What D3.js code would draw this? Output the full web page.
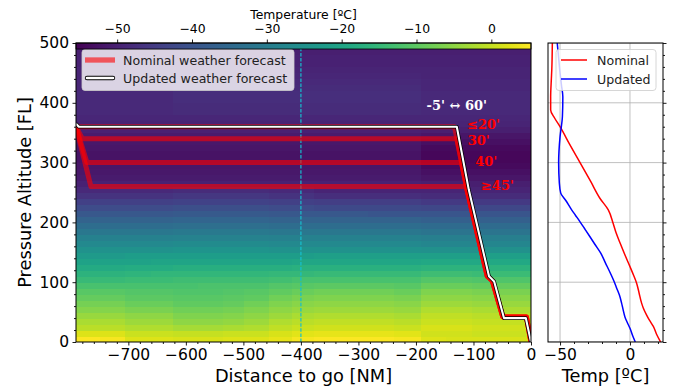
<!DOCTYPE html>
<html>
<head>
<meta charset="utf-8">
<script src="https://cdn.jsdelivr.net/npm/d3@7"></script>
<style>
  body { margin: 0; background: #fff; }
  svg { display: block; font-family: "DejaVu Sans", sans-serif; }
</style>
</head>
<body>
<svg id="chart" width="675" height="389"></svg>
<script>
// ---- data ----
// heatmap cell edges: distance to go [NM] and pressure altitude [FL]
const colEdges = [-791, -750, -706, -661, -623, -579, -536, -499, -456, -416, -377, -330, -283, -238, -191, -148, -103, -59, -16, 0];
const rowEdges = [0, 10, 20, 30, 40, 50, 60, 70, 80, 90, 100, 110, 120, 130, 140, 150, 160, 170, 180, 190, 200,
  210, 220, 230, 240, 250, 260, 270, 280, 290, 300, 310, 320, 330, 340, 350, 360, 370, 380, 390, 400,
  410, 420, 430, 440, 450, 460, 470, 480, 490, 500];

// temperature [ºC] per cell, bottom row first, one value per column
const tempGrid = [
  [5, 4.5, 2, 2, 1.5, 1.5, 2, 2, 3, 4.5, 5, 5, 5, 4.5, 2, 1.5, 1.5, 1.5, 1.5],
  [2, 2, 0.5, 0.5, 0, 0, 0.5, 0.5, 1.5, 2.5, 3, 3, 3, 2.5, 1, 1, 0.5, 0.5, 0.5],
  [-1, -1, -2, -2, -3, -3, -2.5, -2, -0.5, 0.5, 1, 1, 1, 0.5, 1.5, 1.5, 1, 1, 1],
  [-2.5, -2.5, -3.5, -3.5, -5, -5, -4.5, -3.5, -2, -1, -0.5, -0.5, -0.5, -1, 0.5, 0.5, 0, 0, 0],
  [-4, -4, -5, -5, -6.5, -6.5, -6, -5, -3.5, -2.5, -2, -2, -2, -2.5, -0.5, -0.5, -1, -1, -1],
  [-6, -6, -7, -7, -8, -8, -7.5, -6.5, -5, -4, -3.5, -3.5, -3.5, -4, -2, -2, -2.5, -2.5, -2.5],
  [-7.5, -7.5, -8.5, -8.5, -9.5, -9.5, -9, -8, -6.5, -5.5, -5, -5, -5, -5.5, -3.5, -3.5, -4, -4, -4],
  [-9, -9, -10, -10, -10.5, -10.5, -10, -9.5, -8, -7, -6.5, -6.5, -6.5, -7, -5, -5, -5.5, -5.5, -5.5],
  [-10.5, -10.5, -11, -11, -11.5, -11.5, -11, -10.5, -9.5, -8.5, -8, -8, -8, -8.5, -6.5, -6.5, -7, -7, -7],
  [-12.5, -12.5, -12.5, -12.5, -12.5, -12, -12, -12, -11, -10.5, -10, -10, -10, -10.5, -8.5, -8.5, -9, -9, -9],
  [-14.5, -14.5, -14, -14, -13.5, -13.5, -13.5, -13.5, -13, -12.5, -12.5, -12.5, -12.5, -12.5, -11, -11, -11.5, -11.5, -11.5],
  [-16.5, -16.5, -16, -15.5, -15.5, -15.5, -15.5, -15.5, -15, -15, -14.5, -14.5, -14.5, -14.5, -13.5, -13.5, -14, -14, -14],
  [-18.5, -18.5, -18, -18, -17.5, -17.5, -17.5, -17.5, -17.5, -17, -17, -17, -17, -17, -16.5, -16.5, -16.5, -16.5, -16.5],
  [-20.5, -20.5, -20.5, -20, -20, -20, -20, -20, -20, -19.5, -19.5, -19.5, -19.5, -19.5, -19, -19, -19, -19, -19],
  [-22.5, -22.5, -22, -22, -22, -22, -22, -22, -22, -22, -21.5, -21.5, -21.5, -21.5, -21.5, -21.5, -21.5, -21.5, -21.5],
  [-24.5, -24.5, -24.5, -24.5, -24, -24, -24, -24, -24.5, -24.5, -24.5, -24.5, -24.5, -24.5, -25, -25, -25, -25, -25],
  [-27, -27, -27, -27, -26.5, -26.5, -26.5, -26.5, -27, -27, -27, -27, -27, -27, -27.5, -27.5, -27.5, -27.5, -27.5],
  [-29, -29, -29, -29, -28.5, -28.5, -28.5, -28.5, -29, -29, -29, -29, -29, -29, -29.5, -29.5, -29.5, -29.5, -29.5],
  [-31.5, -31.5, -31.5, -31.5, -31, -31, -31, -31, -31.5, -31.5, -31.5, -31.5, -31.5, -31.5, -32, -32, -32, -32, -32],
  [-34, -34, -34, -34, -33.5, -33.5, -33.5, -33.5, -34, -34, -34, -34, -34, -34, -34.5, -34.5, -34.5, -34.5, -34.5],
  [-36.5, -36.5, -36.5, -36.5, -36, -36, -36, -36, -36.5, -36.5, -36.5, -36.5, -36.5, -36.5, -37, -37, -37, -37, -37],
  [-39, -39, -39, -39, -38.5, -38.5, -38.5, -38.5, -39, -39, -39, -39, -39.5, -39.5, -39.5, -39.5, -39.5, -39.5, -39.5],
  [-41.5, -41.5, -41.5, -41.5, -41, -41, -41, -41, -41.5, -41.5, -42, -42, -42, -42, -42.5, -42.5, -42.5, -42.5, -42.5],
  [-44, -44, -44, -44, -43.5, -43.5, -43.5, -43.5, -44, -44, -44.5, -44.5, -44.5, -44.5, -45.5, -45.5, -45.5, -45.5, -45.5],
  [-46.5, -46.5, -46.5, -46.5, -46, -46, -46, -46, -46.5, -46.5, -47.5, -47.5, -47.5, -47.5, -48, -48, -48, -48, -48],
  [-48.5, -48.5, -48.5, -48.5, -48, -48, -48, -48, -48.5, -48.5, -49.5, -49.5, -49.5, -49.5, -49.5, -49.5, -49.5, -49.5, -49.5],
  [-50, -50, -50, -50, -50, -50, -50, -50, -50, -50, -50, -50, -50, -50, -50.5, -50.5, -50.5, -50.5, -50.5],
  [-51, -51, -51, -51, -51, -51, -51, -51, -51, -51, -51, -51, -51, -51, -52, -52, -52, -52, -52],
  [-51.5, -51.5, -51.5, -51.5, -51.5, -51.5, -51.5, -51.5, -51.5, -51.5, -51.5, -51.5, -51.5, -51.5, -53, -53, -53, -53, -53],
  [-52, -52, -52, -52, -52, -52, -52, -52, -52, -52, -52, -52, -52, -52, -54, -54, -54, -54, -54],
  [-52.5, -52.5, -52.5, -52.5, -52.5, -52.5, -52.5, -52.5, -52.5, -52.5, -52.5, -52.5, -52.5, -52.5, -54.5, -54.5, -54.5, -54.5, -54.5],
  [-52.5, -52.5, -52.5, -52.5, -52.5, -52.5, -52.5, -52.5, -52.5, -52.5, -52.5, -52.5, -52.5, -52.5, -54.5, -54.5, -54.5, -54.5, -54.5],
  [-52, -52, -52, -52, -52, -52, -52, -52, -52, -52, -52, -52, -52, -52, -54, -54, -54, -54, -54],
  [-51.5, -51.5, -51.5, -51.5, -51.5, -51.5, -51.5, -51.5, -51.5, -51.5, -51.5, -51.5, -51.5, -51.5, -53, -53, -53, -53, -53],
  [-51, -51, -51, -51, -51, -51, -51, -51, -51, -51, -51, -51, -51, -51, -52, -52, -52, -52, -52],
  [-50, -50, -50, -50, -50, -50, -50, -50, -50, -50, -50, -50, -50, -50, -50.5, -50.5, -50.5, -50.5, -50.5],
  [-49.5, -49.5, -49.5, -49.5, -49.5, -49.5, -49.5, -49.5, -49.5, -49.5, -49.5, -49.5, -49.5, -49.5, -49.5, -49.5, -49.5, -49.5, -49.5],
  [-49, -49, -49, -49, -49, -49, -49, -49, -49, -49, -49, -49, -49, -49, -49, -49, -49, -49, -49],
  [-48.5, -48.5, -48.5, -48.5, -48, -48, -48, -48, -48, -48, -48, -48, -48, -48, -48.5, -48.5, -48.5, -48.5, -48.5],
  [-48.5, -48.5, -48.5, -48.5, -48, -48, -48, -48, -48, -48, -48, -48, -48, -48, -48.5, -48.5, -48.5, -48.5, -48.5],
  [-48.5, -48.5, -48.5, -48.5, -47.5, -47.5, -47.5, -47.5, -47.5, -47.5, -47.5, -47.5, -47.5, -47.5, -48.5, -48.5, -48.5, -48.5, -48.5],
  [-48.5, -48.5, -48.5, -48.5, -47.5, -47.5, -47.5, -47.5, -47.5, -47.5, -47.5, -47.5, -47.5, -47.5, -48.5, -48.5, -48.5, -48.5, -48.5],
  [-49, -49, -49, -49, -48, -48, -48, -48, -48, -48, -48, -48, -48, -48, -49, -49, -49, -49, -49],
  [-49, -49, -49, -49, -48.5, -48.5, -48.5, -48.5, -48.5, -48.5, -48.5, -48.5, -48.5, -48.5, -49, -49, -49, -49, -49],
  [-49.5, -49.5, -49.5, -49.5, -49, -49, -49, -49, -49, -49, -49, -49, -49, -49, -49.5, -49.5, -49.5, -49.5, -49.5],
  [-49.5, -49.5, -49.5, -49.5, -49.5, -49.5, -49.5, -49.5, -49.5, -49.5, -49.5, -49.5, -49.5, -49.5, -49.5, -49.5, -49.5, -49.5, -49.5],
  [-50, -50, -50, -50, -50, -50, -50, -50, -50, -50, -50, -50, -50, -50, -50, -50, -50, -50, -50],
  [-50, -50, -50, -50, -50, -50, -50, -50, -50, -50, -50, -50, -50, -50, -50, -50, -50, -50, -50],
  [-50.5, -50.5, -50.5, -50.5, -50.5, -50.5, -50.5, -50.5, -50.5, -50.5, -50.5, -50.5, -50.5, -50.5, -50.5, -50.5, -50.5, -50.5, -50.5],
  [-50.5, -50.5, -50.5, -50.5, -50.5, -50.5, -50.5, -50.5, -50.5, -50.5, -50.5, -50.5, -50.5, -50.5, -50.5, -50.5, -50.5, -50.5, -50.5]
];

// flight profiles [distance NM, FL]
const nominalLevels = [360, 340, 300, 260];
const nominalStart = [-791, 360];
const nominalJoin = [[-784, 360], [-780, 340], [-772, 300], [-765, 260]];
const nominalTOD = [[-133, 360], [-129, 340], [-121, 300], [-112, 260]];
const nominalDescent = [[-133, 360], [-111, 254], [-76, 110], [-67, 102], [-49, 42], [-8, 42], [0, 0]];
const updatedPath = [[-791, 365], [-786, 360], [-129, 360], [-108, 254], [-73, 110], [-64, 101], [-47, 40], [-9, 40], [0, 0]];

// delay annotations [text, distance NM, FL]
const delayLabels = [["≤20'", -111, 363], ["30'", -110, 337], ["40'", -97, 301.5], ["≥45'", -87, 262.5]];
const rangeLabel = ["-5' ↔ 60'", -129, 396];

// temperature profiles [ºC, FL]
const nominalProfile = [[21.9, 0], [19, 13], [16.7, 26], [14, 36], [11.9, 45], [9.5, 57], [8.3, 65], [6.5, 82], [4.8, 98],
  [2.5, 112], [0, 126], [-3.5, 145], [-7, 165], [-10, 183], [-12, 198], [-15.5, 221], [-21.4, 240], [-28, 268],
  [-35.7, 300], [-43, 330], [-50, 360], [-54, 375], [-56.7, 388], [-56.7, 410], [-56.2, 440], [-55.9, 455], [-55.5, 500]];
const updatedProfile = [[3.8, 0], [2, 10], [0, 23], [-2, 33], [-3.6, 42], [-5, 55], [-6, 65], [-7.5, 78], [-9.5, 90],
  [-11.5, 102], [-14, 115], [-17.5, 132], [-21, 149], [-25, 163], [-28.6, 176], [-32, 188], [-35.7, 201], [-39, 212],
  [-41.7, 221], [-46, 237], [-49.5, 249], [-50.5, 266], [-51, 300], [-50, 343], [-48.3, 377], [-48, 410], [-49, 430],
  [-50, 450], [-51, 475], [-52, 500]];

// ticks
const distTicks = [-700, -600, -500, -400, -300, -200, -100, 0];
const flTicks = [0, 100, 200, 300, 400, 500];
const tempTicksTop = [-50, -40, -30, -20, -10, 0];
const tempTicksRight = [-50, 0];
const cbarRange = [-55.5, 5.3];
const markerDist = -400;

// ---- drawing ----
const svg = d3.select("#chart");
const fmt = d => d < 0 ? "\u2212" + Math.abs(d) : String(d);

const x = d3.scaleLinear().domain([-791, 0]).range([76, 531]);
const y = d3.scaleLinear().domain([0, 500]).range([342, 43]);
const xTop = d3.scaleLinear().domain(cbarRange).range([76, 531]);
const color = d3.scaleSequential(d3.interpolateViridis).domain(cbarRange);
const xr = d3.scaleLinear().domain([-58.6, 23.6]).range([548, 663]);

const defs = svg.append("defs");
defs.append("clipPath").attr("id", "clipMain")
  .append("rect").attr("x", 76).attr("y", 43).attr("width", 455).attr("height", 299);
defs.append("clipPath").attr("id", "clipRight")
  .append("rect").attr("x", 548).attr("y", 43).attr("width", 115).attr("height", 299);

// heatmap
const main = svg.append("g").attr("clip-path", "url(#clipMain)");
const cells = [];
tempGrid.forEach((row, i) => row.forEach((v, j) => cells.push({i, j, v})));
main.append("g").attr("shape-rendering", "crispEdges").selectAll("rect")
  .data(cells).enter().append("rect")
  .attr("x", d => x(colEdges[d.j]))
  .attr("width", d => x(colEdges[d.j + 1]) - x(colEdges[d.j]) + 0.5)
  .attr("y", d => y(rowEdges[d.i + 1]))
  .attr("height", d => y(rowEdges[d.i]) - y(rowEdges[d.i + 1]) + 0.5)
  .attr("fill", d => color(d.v));

// dashed marker
main.append("line")
  .attr("x1", x(markerDist)).attr("x2", x(markerDist))
  .attr("y1", y(0)).attr("y2", y(500))
  .attr("stroke", "#17becf").attr("stroke-width", 1.2)
  .attr("stroke-dasharray", "3.5,1.6");

const line = d3.line().x(d => x(d[0])).y(d => y(d[1]));

// nominal trajectories
nominalLevels.forEach((lvl, k) => {
  const pts = [nominalStart, nominalJoin[k], nominalTOD[k]]
    .concat(nominalDescent.filter(p => p[1] < lvl));
  main.append("path")
    .attr("d", line(pts))
    .attr("fill", "none")
    .attr("stroke", "#ff0000")
    .attr("stroke-opacity", 0.6)
    .attr("stroke-width", 5)
    .attr("stroke-linejoin", "round");
});

// updated trajectory (white with black outline)
main.append("path").attr("d", line(updatedPath))
  .attr("fill", "none").attr("stroke", "#000").attr("stroke-width", 3.6)
  .attr("stroke-linejoin", "round");
main.append("path").attr("d", line(updatedPath))
  .attr("fill", "none").attr("stroke", "#fff").attr("stroke-width", 2.1)
  .attr("stroke-linejoin", "round");

// annotations
main.selectAll(".delay").data(delayLabels).enter().append("text")
  .attr("class", "delay")
  .attr("x", d => x(d[1])).attr("y", d => y(d[2]))
  .attr("dominant-baseline", "central")
  .style("font-family", "'DejaVu Serif', serif").style("font-weight", "bold")
  .style("font-size", "13px").attr("fill", "#ff0000")
  .text(d => d[0]);
main.append("text")
  .attr("x", x(rangeLabel[1])).attr("y", y(rangeLabel[2]))
  .attr("text-anchor", "middle").attr("dominant-baseline", "central")
  .style("font-family", "'DejaVu Serif', serif").style("font-weight", "bold")
  .style("font-size", "13px").attr("fill", "#fff")
  .text(rangeLabel[0]);

// legend (main)
const lg = svg.append("g");
lg.append("rect").attr("x", 82).attr("y", 49.5).attr("width", 212).attr("height", 41).attr("rx", 3)
  .attr("fill", "#fff").attr("fill-opacity", 0.8).attr("stroke", "#cccccc").attr("stroke-width", 0.8);
lg.append("line").attr("x1", 85).attr("x2", 115).attr("y1", 60).attr("y2", 60)
  .attr("stroke", "#ff0000").attr("stroke-opacity", 0.6).attr("stroke-width", 5.3);
lg.append("line").attr("x1", 87).attr("x2", 113).attr("y1", 78).attr("y2", 78)
  .attr("stroke", "#000").attr("stroke-width", 4.4).attr("stroke-linecap", "round");
lg.append("line").attr("x1", 87).attr("x2", 113).attr("y1", 78).attr("y2", 78)
  .attr("stroke", "#fff").attr("stroke-width", 2.6).attr("stroke-linecap", "round");
lg.append("text").attr("x", 123).attr("y", 60).attr("dominant-baseline", "central")
  .style("font-size", "12.6px").attr("fill", "#222").text("Nominal weather forecast");
lg.append("text").attr("x", 123).attr("y", 78).attr("dominant-baseline", "central")
  .style("font-size", "12.6px").attr("fill", "#222").text("Updated weather forecast");

// colorbar strip on top
const grad = defs.append("linearGradient").attr("id", "cbar");
d3.range(0, 1.0001, 0.05).forEach(t => {
  grad.append("stop").attr("offset", t).attr("stop-color", d3.interpolateViridis(t));
});
svg.append("rect").attr("x", 76).attr("y", 43).attr("width", 455).attr("height", 6)
  .attr("fill", "url(#cbar)").attr("stroke", "#000").attr("stroke-width", 0.8);

// main frame
svg.append("rect").attr("x", 76).attr("y", 43).attr("width", 455).attr("height", 299)
  .attr("fill", "none").attr("stroke", "#000").attr("stroke-width", 1);

function styleAxis(g, size) {
  g.select(".domain").remove();
  g.selectAll("line").attr("stroke", "#000").attr("stroke-width", 0.9);
  g.selectAll("text").style("font-size", size).attr("fill", "#000")
    .style("font-family", "'DejaVu Sans', sans-serif");
}

// main axes
const gx = svg.append("g").attr("transform", "translate(0,342)")
  .call(d3.axisBottom(x).tickValues(distTicks).tickFormat(fmt).tickSize(3.5).tickPadding(3.5));
styleAxis(gx, "15.5px");
svg.append("g").attr("transform", "translate(0,342)")
  .call(d3.axisBottom(x).tickValues(d3.range(-780, 0, 20).filter(v => v % 100 !== 0)).tickFormat("").tickSize(2))
  .call(g => styleAxis(g, "0px"));

const gy = svg.append("g").attr("transform", "translate(76,0)")
  .call(d3.axisLeft(y).tickValues(flTicks).tickFormat(fmt).tickSize(3.5).tickPadding(3.5));
styleAxis(gy, "15.5px");
svg.append("g").attr("transform", "translate(76,0)")
  .call(d3.axisLeft(y).tickValues(d3.range(20, 500, 20).filter(v => v % 100 !== 0)).tickFormat("").tickSize(2))
  .call(g => styleAxis(g, "0px"));

const gt = svg.append("g").attr("transform", "translate(0,43)")
  .call(d3.axisTop(xTop).tickValues(tempTicksTop).tickFormat(fmt).tickSize(3.5).tickPadding(6.5));
styleAxis(gt, "12.4px");

svg.append("text").attr("x", 303.5).attr("y", 19).attr("text-anchor", "middle")
  .style("font-size", "12.4px").text("Temperature [ºC]");
svg.append("text").attr("x", 303.5).attr("y", 381.5).attr("text-anchor", "middle")
  .style("font-size", "17.8px").text("Distance to go [NM]");
svg.append("text").attr("transform", "translate(31,192.5) rotate(-90)").attr("text-anchor", "middle")
  .style("font-size", "17.8px").text("Pressure Altitude [FL]");

// ---- right panel: temperature profiles ----
const rp = svg.append("g");
rp.append("rect").attr("x", 548).attr("y", 43).attr("width", 115).attr("height", 299).attr("fill", "#fff");
const rc = rp.append("g").attr("clip-path", "url(#clipRight)");
rc.selectAll(".vgrid").data(tempTicksRight).enter().append("line")
  .attr("x1", d => xr(d)).attr("x2", d => xr(d)).attr("y1", 43).attr("y2", 342)
  .attr("stroke", "#b0b0b0").attr("stroke-width", 0.8);
rc.selectAll(".hgrid").data(flTicks).enter().append("line")
  .attr("x1", 548).attr("x2", 663).attr("y1", d => y(d)).attr("y2", d => y(d))
  .attr("stroke", "#b0b0b0").attr("stroke-width", 0.8);

const pline = d3.line().x(d => xr(d[0])).y(d => y(d[1])).curve(d3.curveMonotoneY);
rc.append("path").attr("d", pline(nominalProfile)).attr("fill", "none")
  .attr("stroke", "#ff0000").attr("stroke-width", 1.5);
rc.append("path").attr("d", pline(updatedProfile)).attr("fill", "none")
  .attr("stroke", "#0000ff").attr("stroke-width", 1.5);

// legend (right)
rp.append("rect").attr("x", 556).attr("y", 49.5).attr("width", 100).attr("height", 41).attr("rx", 3)
  .attr("fill", "#fff").attr("fill-opacity", 0.8).attr("stroke", "#cccccc").attr("stroke-width", 0.8);
rp.append("line").attr("x1", 561).attr("x2", 587).attr("y1", 60).attr("y2", 60)
  .attr("stroke", "#ff0000").attr("stroke-width", 1.5);
rp.append("line").attr("x1", 561).attr("x2", 587).attr("y1", 79).attr("y2", 79)
  .attr("stroke", "#0000ff").attr("stroke-width", 1.5);
rp.append("text").attr("x", 597).attr("y", 60).attr("dominant-baseline", "central")
  .style("font-size", "12.6px").attr("fill", "#222").text("Nominal");
rp.append("text").attr("x", 597).attr("y", 79).attr("dominant-baseline", "central")
  .style("font-size", "12.6px").attr("fill", "#222").text("Updated");

rp.append("rect").attr("x", 548).attr("y", 43).attr("width", 115).attr("height", 299)
  .attr("fill", "none").attr("stroke", "#000").attr("stroke-width", 1);

const grx = svg.append("g").attr("transform", "translate(0,342)")
  .call(d3.axisBottom(xr).tickValues(tempTicksRight).tickFormat(fmt).tickSize(3.5).tickPadding(3.5));
styleAxis(grx, "15.5px");
svg.append("g").attr("transform", "translate(0,342)")
  .call(d3.axisBottom(xr).tickValues([-40, -30, -20, -10, 10, 20]).tickFormat("").tickSize(2))
  .call(g => styleAxis(g, "0px"));
svg.append("g").attr("transform", "translate(663,0)")
  .call(d3.axisRight(y).tickValues(flTicks).tickFormat("").tickSize(3.5))
  .call(g => styleAxis(g, "0px"));
svg.append("g").attr("transform", "translate(663,0)")
  .call(d3.axisRight(y).tickValues(d3.range(20, 500, 20).filter(v => v % 100 !== 0)).tickFormat("").tickSize(2))
  .call(g => styleAxis(g, "0px"));

svg.append("text").attr("x", 605.5).attr("y", 381.5).attr("text-anchor", "middle")
  .style("font-size", "17.8px").text("Temp [ºC]");
</script>
</body>
</html>
